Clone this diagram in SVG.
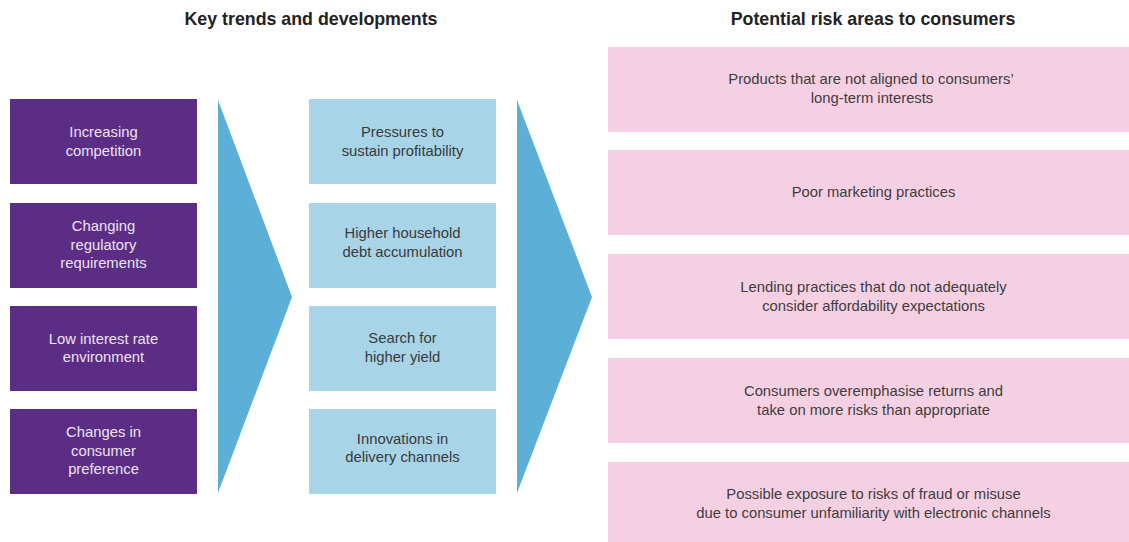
<svg xmlns="http://www.w3.org/2000/svg" width="1129" height="542" viewBox="0 0 1129 542">
  <style>
    .hdr { font-family: "Liberation Sans", Arial, sans-serif; font-size: 17.8px; font-weight: bold; fill: #222222; text-anchor: middle; }
    .lbl { font-family: "Liberation Sans", Arial, sans-serif; font-size: 14.8px; text-anchor: middle; }
    .trend rect { fill: #5c2d84; }
    .trend text { fill: #ece4f2; }
    .effect rect { fill: #a8d4e8; }
    .effect text { fill: #3a3a3a; }
    .risk rect { fill: #f5d0e3; }
    .risk text { fill: #3d3d3d; }
    .chev { fill: #5cafd7; }
  </style>

  <rect width="1129" height="542" fill="#ffffff"/>

  <text class="hdr" x="311" y="25">Key trends and developments</text>
  <text class="hdr" x="873" y="25">Potential risk areas to consumers</text>

  <!-- drivers -->
  <g id="trend1" class="trend">
    <rect x="10" y="99" width="187" height="85"/>
    <text class="lbl" x="103.5" y="137">Increasing</text>
    <text class="lbl" x="103.5" y="156">competition</text>
  </g>
  <g id="trend2" class="trend">
    <rect x="10" y="203" width="187" height="85"/>
    <text class="lbl" x="103.5" y="231">Changing</text>
    <text class="lbl" x="103.5" y="249.5">regulatory</text>
    <text class="lbl" x="103.5" y="268">requirements</text>
  </g>
  <g id="trend3" class="trend">
    <rect x="10" y="306" width="187" height="85"/>
    <text class="lbl" x="103.5" y="344">Low interest rate</text>
    <text class="lbl" x="103.5" y="362">environment</text>
  </g>
  <g id="trend4" class="trend">
    <rect x="10" y="409" width="187" height="85"/>
    <text class="lbl" x="103.5" y="437">Changes in</text>
    <text class="lbl" x="103.5" y="455.5">consumer</text>
    <text class="lbl" x="103.5" y="474">preference</text>
  </g>

  <!-- developments -->
  <g id="dev1" class="effect">
    <rect x="309" y="99" width="187" height="85"/>
    <text class="lbl" x="402.5" y="137">Pressures to</text>
    <text class="lbl" x="402.5" y="156">sustain profitability</text>
  </g>
  <g id="dev2" class="effect">
    <rect x="309" y="203" width="187" height="85"/>
    <text class="lbl" x="402.5" y="238">Higher household</text>
    <text class="lbl" x="402.5" y="257">debt accumulation</text>
  </g>
  <g id="dev3" class="effect">
    <rect x="309" y="306" width="187" height="85"/>
    <text class="lbl" x="402.5" y="343">Search for</text>
    <text class="lbl" x="402.5" y="362">higher yield</text>
  </g>
  <g id="dev4" class="effect">
    <rect x="309" y="409" width="187" height="85"/>
    <text class="lbl" x="402.5" y="444">Innovations in</text>
    <text class="lbl" x="402.5" y="462">delivery channels</text>
  </g>

  <!-- risk areas -->
  <g id="risk1" class="risk">
    <rect x="608" y="47" width="521" height="85"/>
    <text class="lbl" x="871" y="84">Products that are not aligned to consumers’</text>
    <text class="lbl" x="872" y="103">long-term interests</text>
  </g>
  <g id="risk2" class="risk">
    <rect x="608" y="150" width="521" height="85"/>
    <text class="lbl" x="873.5" y="197">Poor marketing practices</text>
  </g>
  <g id="risk3" class="risk">
    <rect x="608" y="254" width="521" height="85"/>
    <text class="lbl" x="873.5" y="292">Lending practices that do not adequately</text>
    <text class="lbl" x="873.5" y="311">consider affordability expectations</text>
  </g>
  <g id="risk4" class="risk">
    <rect x="608" y="358" width="521" height="85"/>
    <text class="lbl" x="873.5" y="396">Consumers overemphasise returns and</text>
    <text class="lbl" x="873.5" y="415">take on more risks than appropriate</text>
  </g>
  <g id="risk5" class="risk">
    <rect x="608" y="462" width="521" height="85"/>
    <text class="lbl" x="873.5" y="499">Possible exposure to risks of fraud or misuse</text>
    <text class="lbl" x="873.5" y="518">due to consumer unfamiliarity with electronic channels</text>
  </g>

  <!-- flow chevrons -->
  <g id="connectors">
    <polygon class="chev" points="218,100 292,297 218,493"/>
    <polygon class="chev" points="517,100 592,297 517,493"/>
  </g>
</svg>
